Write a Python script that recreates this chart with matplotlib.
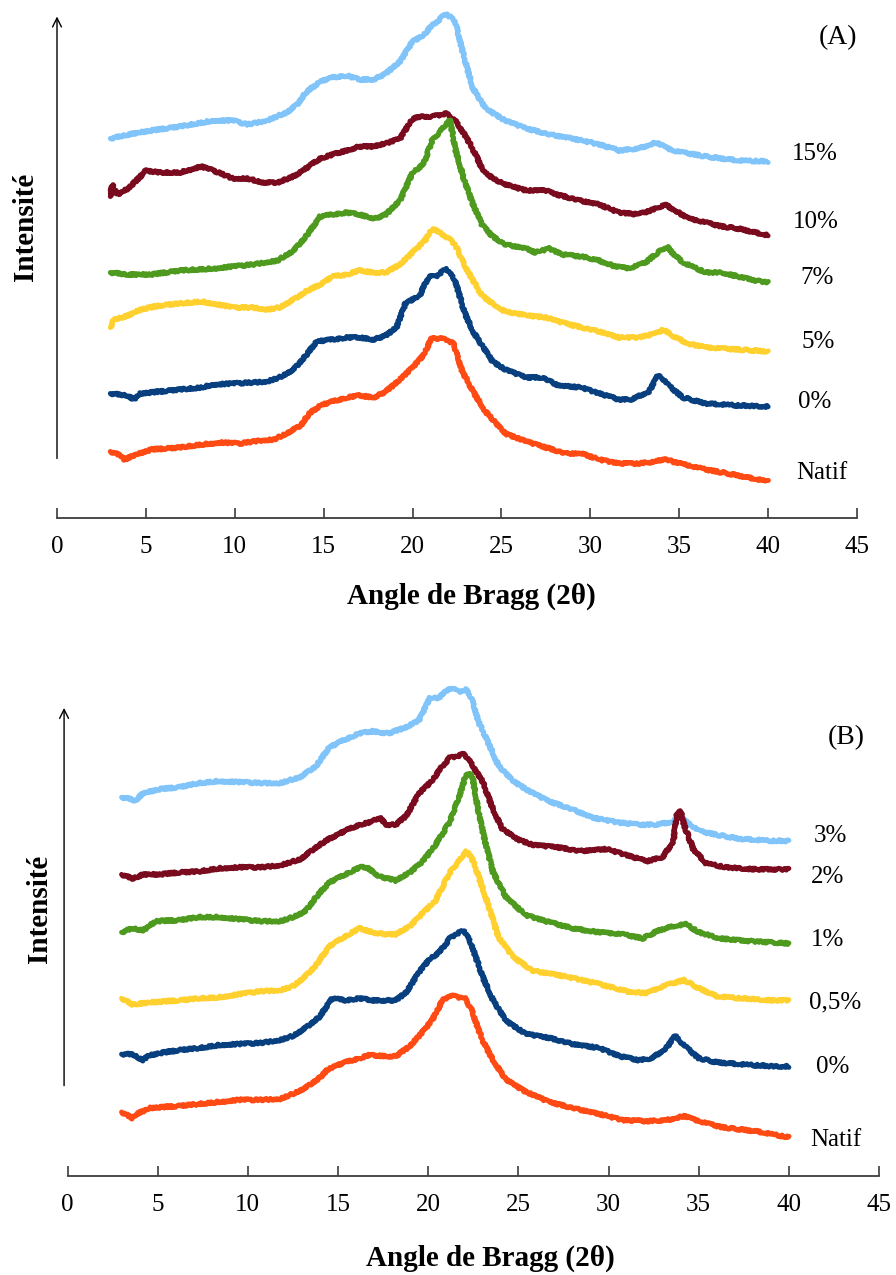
import matplotlib
matplotlib.use("Agg")
import matplotlib.pyplot as plt

# ---------------- data: 2-theta (deg) and relative intensity (a.u.) ----------------
# Panel A
a_labels = ["15%", "10%", "7%", "5%", "0%", "Natif"]

a15_x = [3.0, 4.0, 5.3, 6.9, 8.8, 9.9, 10.7, 11.8, 12.9, 13.5, 14.0, 14.8, 15.5, 16.3, 17.0, 17.8,
         18.5, 19.3, 20.0, 20.6, 21.1, 21.9, 22.4, 22.9, 23.4, 24.1, 25.2, 26.4, 27.7, 29.0, 30.5,
         31.6, 32.7, 33.7, 34.6, 36.5, 38.3, 40.0]
a15_y = [379, 383, 387, 391, 397, 397, 393, 397, 405, 413, 425, 436, 440, 442, 438, 438,
         444, 456, 476, 482, 492, 504, 496, 460, 429, 409, 397, 389, 383, 379, 373,
         367, 369, 375, 367, 361, 357, 356]

a10_x = [3.0, 3.1, 3.4, 4.0, 4.7, 4.9, 5.8, 6.9, 8.1, 8.8, 9.9, 10.7, 11.6, 12.4, 13.3, 14.0,
         14.8, 15.5, 16.3, 17.0, 17.8, 18.5, 19.3, 20.0, 20.6, 21.1, 21.9, 22.4, 23.0, 23.6,
         23.9, 24.5, 25.2, 26.4, 27.5, 28.1, 29.4, 30.5, 31.6, 32.7, 33.7, 34.2, 34.6, 35.5,
         36.5, 37.4, 38.3, 40.0]
a10_y = [321, 333, 323, 329, 341, 347, 345, 345, 351, 347, 339, 339, 335, 335, 341, 349,
         359, 363, 367, 371, 371, 374, 379, 399, 401, 401, 404, 397, 381, 361,
         349, 339, 333, 327, 327, 323, 317, 313, 305, 303, 309, 313, 309, 299,
         295, 291, 289, 282]

a7_x = [3.0, 4.0, 5.3, 6.9, 8.8, 9.9, 11.0, 12.4, 13.3, 14.0, 14.8, 15.5, 16.3, 17.0, 17.4,
        17.9, 18.5, 19.3, 20.0, 20.6, 21.1, 21.5, 22.1, 22.4, 22.9, 23.4, 23.9, 24.5, 25.2,
        26.4, 26.9, 27.7, 28.4, 29.5, 30.5, 31.4, 32.2, 33.1, 33.8, 34.3, 34.6, 35.2, 36.5,
        37.4, 38.3, 39.3, 40.0]
a7_y = [245, 243, 243, 247, 249, 251, 253, 257, 267, 281, 301, 303, 305, 303, 301,
        299, 303, 317, 345, 353, 377, 385, 398, 369, 337, 313, 293, 281, 273,
        269, 265, 269, 263, 261, 257, 251, 249, 255, 265, 271, 265, 255, 245,
        245, 241, 237, 235]

a5_x = [3.0, 3.2, 4.0, 4.7, 5.8, 6.9, 8.1, 8.8, 9.9, 11.0, 11.8, 12.5, 13.3, 14.0, 14.8, 15.5,
        16.3, 17.0, 17.8, 18.5, 19.3, 20.0, 20.7, 21.1, 21.9, 22.4, 22.9, 23.4, 23.9, 24.5,
        25.2, 26.4, 27.5, 28.2, 29.5, 30.5, 31.6, 32.7, 33.7, 34.1, 34.6, 35.5, 36.5, 38.3, 40.0]
a5_y = [190, 198, 202, 208, 212, 214, 216, 214, 210, 210, 208, 210, 218, 226, 233, 241,
        243, 247, 245, 245, 253, 265, 277, 289, 281, 273, 253, 237, 222, 214,
        206, 202, 200, 196, 190, 186, 180, 180, 184, 188, 182, 174, 170, 168, 166]

a0_x = [3.0, 4.0, 4.3, 4.7, 5.8, 6.9, 8.1, 8.8, 9.9, 11.0, 11.8, 12.5, 13.3, 14.0, 14.6, 15.5,
        16.3, 17.0, 17.8, 18.5, 19.1, 19.6, 20.4, 20.9, 21.3, 21.9, 22.4, 22.9, 23.4, 23.9,
        24.5, 25.2, 26.4, 27.3, 28.2, 29.5, 30.5, 31.6, 32.3, 33.3, 33.8, 34.0, 34.4, 35.2,
        36.5, 38.3, 40.0]
a0_y = [124, 122, 118, 124, 126, 128, 130, 133, 134, 135, 136, 140, 148, 162, 176, 178,
        180, 180, 178, 182, 190, 214, 222, 241, 241, 249, 237, 206, 186, 172,
        156, 148, 140, 140, 132, 130, 124, 118, 118, 126, 142, 140, 132, 120,
        114, 112, 111]

anat_x = [3.0, 3.6, 3.8, 4.3, 5.3, 6.9, 8.1, 9.2, 10.3, 11.4, 12.2, 12.9, 13.7, 14.2, 14.8, 15.5,
          16.3, 17.0, 17.8, 18.5, 19.3, 20.0, 20.6, 21.1, 21.9, 22.3, 22.8, 23.4, 24.1, 25.2,
          26.4, 27.5, 28.6, 29.5, 30.5, 31.6, 32.7, 33.7, 34.2, 34.6, 35.5, 36.5, 38.3, 40.0]
anat_y = [66, 62, 58, 62, 68, 70, 73, 75, 74, 77, 78, 84, 92, 104, 112, 116,
          120, 122, 120, 126, 138, 150, 162, 180, 178, 174, 146, 126, 106, 84,
          76, 70, 64, 64, 58, 54, 54, 56, 59, 56, 52, 48, 42, 36]

# Panel B
b_labels = ["3%", "2%", "1%", "0,5%", "0%", "Natif"]

b3_x = [3.0, 3.6, 3.7, 4.2, 5.1, 6.2, 7.3, 8.4, 9.5, 10.7, 11.8, 12.9, 13.8, 14.5, 15.4, 16.2,
        16.9, 17.8, 18.8, 19.5, 20.1, 20.6, 21.2, 21.7, 22.1, 22.4, 22.8, 23.4, 23.9, 24.7,
        25.6, 26.7, 28.0, 29.1, 30.6, 31.7, 32.6, 33.6, 33.9, 34.3, 35.0, 36.0, 37.3, 39.1, 40.0]
b3_y = [373, 371, 369, 377, 381, 383, 387, 389, 388, 387, 387, 393, 404, 422, 430, 436,
        438, 436, 442, 449, 471, 471, 481, 477, 479, 471, 447, 424, 404, 389,
        379, 369, 361, 353, 348, 346, 346, 349, 355, 349, 340, 336, 332, 330, 330]

b2_x = [3.0, 3.6, 4.2, 5.1, 6.2, 7.3, 8.4, 9.5, 10.7, 11.8, 12.9, 13.8, 14.5, 15.4, 16.2, 16.9,
        17.3, 17.7, 18.2, 18.8, 19.5, 20.2, 20.8, 21.2, 21.7, 22.0, 22.4, 23.0, 23.6, 24.1,
        24.9, 25.8, 27.1, 28.4, 29.9, 31.0, 32.1, 33.0, 33.6, 33.8, 34.0, 34.2, 34.7, 35.4,
        36.5, 38.2, 40.0]
b2_y = [297, 293, 297, 297, 299, 300, 303, 304, 304, 306, 312, 324, 332, 340, 346, 349,
        353, 346, 346, 355, 377, 389, 404, 412, 414, 416, 406, 389, 361, 342,
        332, 326, 324, 320, 322, 316, 310, 314, 330, 357, 359, 345, 322, 308,
        304, 302, 302]

b1_x = [3.0, 3.6, 4.2, 4.9, 6.2, 7.3, 8.4, 9.5, 10.7, 11.8, 12.5, 13.2, 13.8, 14.5, 15.4, 16.2,
        16.6, 17.3, 18.2, 19.0, 19.7, 20.4, 21.2, 21.7, 22.1, 22.3, 22.5, 22.8, 23.2, 23.6,
        24.3, 25.4, 26.7, 28.0, 29.5, 30.8, 31.9, 32.8, 33.6, 34.3, 35.0, 36.2, 37.3, 39.1, 40.0]
b1_y = [240, 244, 242, 251, 252, 255, 255, 253, 251, 251, 255, 261, 275, 289, 297, 304,
        304, 295, 291, 299, 310, 326, 349, 373, 395, 397, 389, 357, 326, 299,
        275, 257, 250, 244, 240, 238, 234, 242, 246, 248, 240, 234, 232, 230, 229]

b05_x = [3.0, 3.6, 4.6, 6.2, 7.3, 8.4, 9.5, 10.7, 11.8, 12.5, 13.2, 13.8, 14.5, 15.4, 16.2, 16.9,
         17.7, 18.2, 19.0, 19.7, 20.4, 21.2, 21.7, 22.1, 22.4, 22.8, 23.4, 23.9, 24.7, 25.8,
         26.9, 28.0, 29.5, 31.0, 32.1, 33.2, 34.2, 35.0, 36.0, 37.3, 39.1, 40.0]
b05_y = [175, 169, 171, 173, 175, 176, 179, 182, 183, 187, 197, 208, 226, 236, 244, 240,
         238, 238, 246, 259, 271, 299, 310, 320, 314, 295, 263, 235, 216, 202,
         199, 195, 189, 182, 180, 188, 193, 185, 177, 175, 173, 173]

b0_x = [3.0, 3.6, 4.2, 4.4, 5.1, 6.2, 7.3, 8.4, 9.5, 10.7, 11.8, 12.5, 13.2, 14.0, 14.5, 14.7,
        15.4, 16.2, 16.9, 17.7, 18.2, 18.8, 19.5, 20.1, 20.6, 21.2, 21.5, 22.0, 22.4, 23.0,
        23.6, 24.3, 25.4, 26.7, 28.0, 29.5, 30.6, 31.7, 32.4, 33.2, 33.7, 34.1, 35.0, 36.0,
        37.3, 39.1, 40.0]
b0_y = [120, 120, 114, 118, 121, 124, 126, 129, 130, 131, 134, 138, 146, 157, 171, 175,
        173, 175, 173, 173, 173, 181, 201, 214, 220, 234, 238, 242, 228, 197,
        173, 153, 140, 136, 130, 126, 118, 114, 116, 126, 138, 130, 116, 112,
        110, 108, 108]

bnat_x = [3.0, 3.6, 3.8, 4.6, 6.2, 7.3, 8.4, 9.5, 10.7, 11.8, 12.5, 13.2, 14.0, 14.5, 15.4, 16.2,
          16.7, 17.7, 18.2, 19.0, 19.7, 20.2, 20.8, 21.2, 21.7, 22.0, 22.4, 23.0, 23.6, 24.3,
          25.4, 26.7, 28.0, 29.5, 30.8, 32.1, 33.2, 34.2, 35.0, 36.3, 38.2, 40.0]
bnat_y = [63, 57, 61, 67, 69, 71, 73, 75, 75, 76, 81, 87, 97, 106, 112, 116,
          119, 118, 118, 128, 142, 153, 173, 178, 176, 176, 164, 134, 114, 95,
          83, 73, 67, 61, 55, 54, 55, 59, 54, 48, 44, 38]

xticks = [0, 5, 10, 15, 20, 25, 30, 35, 40, 45]
colors = ["#80C4FA", "#7A0A1E", "#4E9A1F", "#FFD02E", "#08407F", "#FF4A14"]

# ---------------- figure ----------------
W, H = 896, 1275
fig = plt.figure(figsize=(W / 100, H / 100), dpi=100)
plt.rcParams["font.family"] = ["Liberation Serif", "DejaVu Serif"]


def box(left, top, right, bottom):
    return [left / W, 1 - bottom / H, (right - left) / W, (bottom - top) / H]


def fxy(px, py):
    return px / W, 1 - py / H


def style_axis(ax, ytop):
    ax.set_xlim(0, 45)
    ax.set_ylim(0, ytop)
    for s in ("left", "right", "top"):
        ax.spines[s].set_visible(False)
    ax.spines["bottom"].set_color("#3c3c3c")
    ax.spines["bottom"].set_linewidth(1.3)
    ax.set_xticks(xticks)
    ax.set_xticklabels([str(t) for t in xticks])
    ax.tick_params(axis="x", direction="in", length=7, width=1.2, color="#3c3c3c",
                   labelsize=18, pad=13)
    ax.set_yticks([])
    ax.patch.set_alpha(0)


def draw(ax, xs, ys):
    for x, y, c in zip(xs, ys, colors):
        ln, = ax.plot(x, y, color=c, lw=3.6, solid_capstyle="round", solid_joinstyle="round")
        ln.set_sketch_params(scale=1.1, length=3.0, randomness=3.0)


# Panel A
axA = fig.add_axes(box(57, 10, 857, 517.5))
style_axis(axA, 507.5)
draw(axA, [a15_x, a10_x, a7_x, a5_x, a0_x, anat_x],
     [a15_y, a10_y, a7_y, a5_y, a0_y, anat_y])
axA.annotate("", xy=(0, 501), xytext=(0, 59),
             arrowprops=dict(arrowstyle="->", lw=1.0, color="black", mutation_scale=16,
                             shrinkA=0, shrinkB=0), annotation_clip=False)

# Panel B
axB = fig.add_axes(box(67.5, 680, 879, 1176))
style_axis(axB, 488.5)
draw(axB, [b3_x, b2_x, b1_x, b05_x, b0_x, bnat_x],
     [b3_y, b2_y, b1_y, b05_y, b0_y, bnat_y])
axB.annotate("", xy=(-0.19, 461), xytext=(-0.19, 89),
             arrowprops=dict(arrowstyle="->", lw=1.0, color="black", mutation_scale=16,
                             shrinkA=0, shrinkB=0), annotation_clip=False)

# series labels
a_pos = [(815, 154), (816, 222), (817, 278), (818, 342), (815, 402), (822, 473)]
for lab, (px, py) in zip(a_labels, a_pos):
    fig.text(*fxy(px, py), lab, ha="center", va="center", fontsize=18)
b_pos = [(830, 836), (828, 877), (828, 940), (835, 1002), (833, 1067), (836, 1140)]
for lab, (px, py) in zip(b_labels, b_pos):
    fig.text(*fxy(px, py), lab, ha="center", va="center", fontsize=18)

fig.text(*fxy(838, 38), "(A)", ha="center", va="center", fontsize=20)
fig.text(*fxy(846, 738), "(B)", ha="center", va="center", fontsize=20)

# axis titles
fig.text(*fxy(471, 596), "Angle de Bragg (2θ)", ha="center", va="center",
         fontsize=21, fontweight="bold")
fig.text(*fxy(490, 1258), "Angle de Bragg (2θ)", ha="center", va="center",
         fontsize=21, fontweight="bold")
fig.text(*fxy(25, 227), "Intensité", ha="center", va="center", rotation=90,
         fontsize=21, fontweight="bold")
fig.text(*fxy(40, 909), "Intensité", ha="center", va="center", rotation=90,
         fontsize=21, fontweight="bold")

fig.savefig("out.png", dpi=100, facecolor="white")
